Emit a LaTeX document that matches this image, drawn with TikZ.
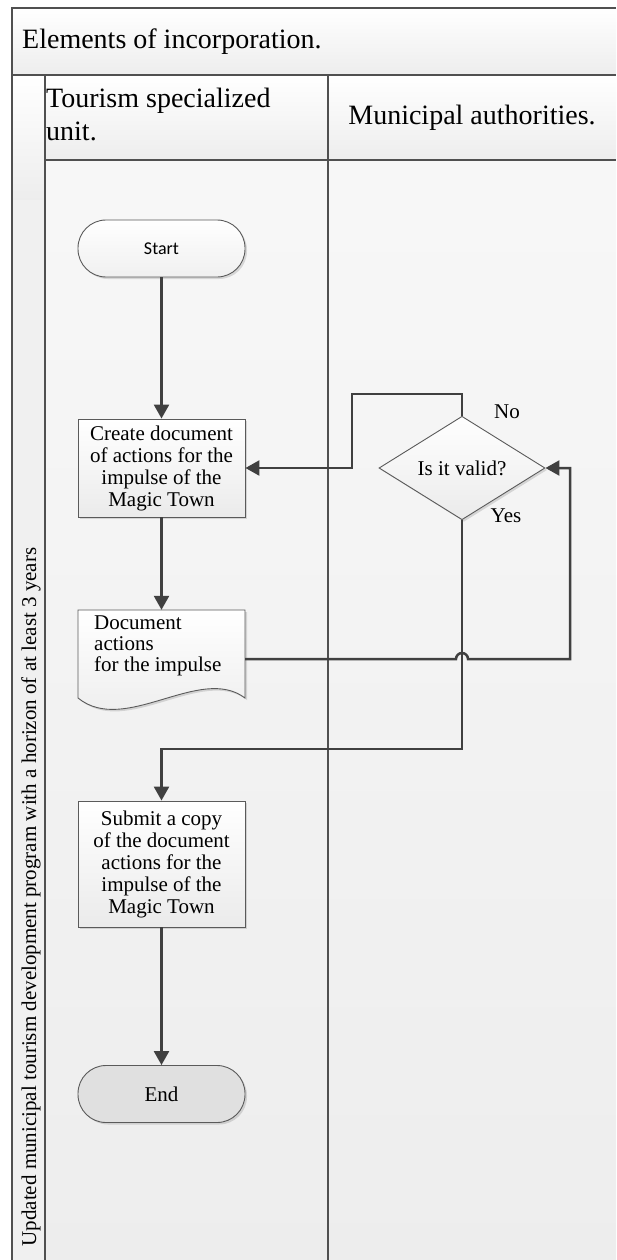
\documentclass[tikz,border=0pt]{standalone}
\usepackage{fontspec}
\setmainfont{Liberation Serif}
\newfontfamily\startfont{Carlito}
\usetikzlibrary{arrows.meta,shapes.geometric,shadows,calc}
\definecolor{conncol}{HTML}{404040}
\definecolor{edgecol}{HTML}{5A5A5A}
\definecolor{framecol}{HTML}{505050}
\definecolor{lanebg}{HTML}{F2F2F2}
\definecolor{endfill}{HTML}{E0E0E0}
\begin{document}
\begin{tikzpicture}[x=1pt,y=-1pt,
  conn/.style={draw=conncol, line width=2.5pt, -{Triangle[length=14pt,width=15pt]}},
  frameline/.style={draw=framecol, line width=2pt},
  shadowed/.style={drop shadow={shadow xshift=2pt,shadow yshift=-2pt,fill=black,opacity=0.13}},
  boxshade/.style={top color=white, bottom color=black!8, draw=edgecol, line width=0.9pt, shadowed},
  txt/.style={font=\fontsize{21}{22}\selectfont, inner sep=0pt},
  procbox/.style={boxshade, txt, rectangle, minimum width=167pt, align=center},
  termbox/.style={draw=edgecol, line width=0.9pt, shadowed, rectangle, rounded corners=28pt,
     minimum width=167pt, minimum height=57pt, inner sep=0pt},
  hdr/.style={font=\fontsize{28}{33}\selectfont, inner sep=0pt}]
\useasboundingbox (0,0) rectangle (616,1260);
% backgrounds
\fill[white] (0,0) rectangle (616,1260);
\shade[top color=white, bottom color=black!7] (12,8) rectangle (616,75);
\shade[top color=white, bottom color=black!7] (45,75) rectangle (616,160);
\shade[top color=black!3, bottom color=black!7] (45,160) rectangle (616,1260);
\shade[top color=white, bottom color=black!7] (12,75) rectangle (45,200);
\fill[black!6] (12,200) rectangle (45,1260);
% frame lines
\draw[frameline] (12,1260) -- (12,8) -- (616,8);
\draw[frameline] (12,75) -- (616,75);
\draw[frameline] (45,75) -- (45,1260);
\draw[frameline] (45,160) -- (616,160);
\draw[frameline] (328,75) -- (328,1260);
% headers
\node[hdr, anchor=west] (title) at (22,42) {Elements of incorporation.};
\node[hdr, anchor=north west, align=left] (lane1) at (46,88) {Tourism specialized\\unit.};
\node[hdr] (lane2) at (472,118) {Municipal authorities.};
\node[txt, rotate=90] (pool) at (31,897) {Updated municipal tourism development program with a horizon of at least 3 years};
% shapes
\node[termbox, top color=white, bottom color=black!6] (start) at (161.5,248.5) {\startfont\fontsize{18}{20}\selectfont Start};
\node[procbox, minimum height=98pt] (create) at (161.5,468) {Create document\\of actions for the\\impulse of the\\Magic Town};
\node[minimum width=167pt, minimum height=98pt, inner sep=0pt] (doc) at (161.5,659) {};
\path[boxshade] (78,610) -- (245,610) -- (245,698) .. controls (200,664) and (125,736) .. (78,698) -- cycle;
\node[txt, anchor=north west, align=left, font=\fontsize{21}{21}\selectfont] (doctxt) at (94,616) {Document\\actions\\for the impulse};
\node[diamond, boxshade, txt, minimum width=166pt, minimum height=99pt] (dia) at (462,468) {Is it valid?};
\node[procbox, minimum height=126pt] (submit) at (161.5,864) {Submit a copy\\of the document\\actions for the\\impulse of the\\Magic Town};
\node[termbox, txt, fill=endfill] (end) at (161.5,1094) {End};
% labels
\node[txt] (nolbl) at (507,412) {No};
\node[txt] (yeslbl) at (506,516) {Yes};
% connectors
\coordinate (nobend) at (352,394);
\coordinate (yesbend) at (462,749);
\coordinate (loopx) at (570,659);
\coordinate (hopin) at (456,659);
\draw[conn] (start) -- (create);
\draw[conn] (create) -- (doc);
\draw[conn] (submit) -- (end);
\draw[conn] (dia.north) |- (nobend) |- (create.east);
\draw[conn] (dia.south) -- (yesbend) -| (submit.north);
\draw[conn] (doc.east) -- (hopin) arc[start angle=180, end angle=0, radius=6pt] -- (loopx) |- (dia.east);
\end{tikzpicture}
\end{document}
